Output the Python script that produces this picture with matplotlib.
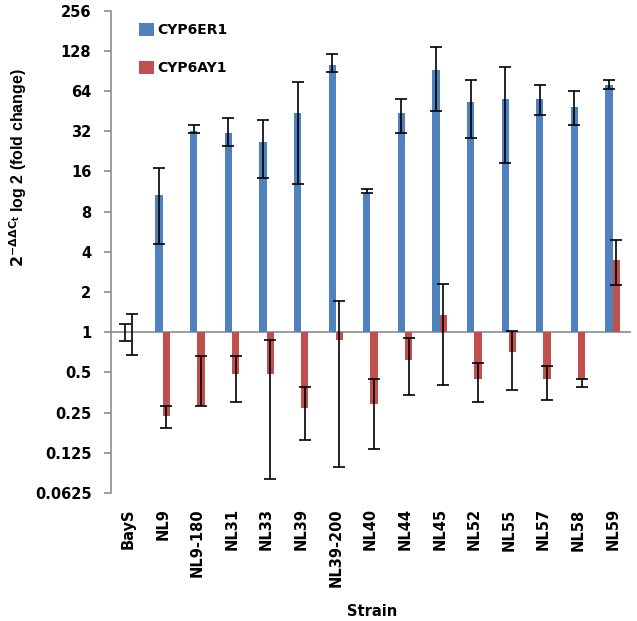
import numpy as np
import matplotlib
matplotlib.use("Agg")
import matplotlib.pyplot as plt
from matplotlib.ticker import FixedLocator, FixedFormatter, NullLocator

strains = ["BayS", "NL9", "NL9-180", "NL31", "NL33", "NL39", "NL39-200", "NL40",
           "NL44", "NL45", "NL52", "NL55", "NL57", "NL58", "NL59"]

# CYP6ER1 fold change with error bar limits (low, high)
er1 = [1.0, 10.6, 32.0, 31.0, 26.5, 43.6, 101.0, 11.0, 43.6, 91.6, 52.7, 55.6, 55.6, 48.5, 70.6]
er1_lo = [0.86, 4.6, 31.0, 24.7, 14.2, 12.8, 88.6, 11.0, 30.9, 45.0, 28.4, 18.4, 42.2, 35.5, 66.0]
er1_hi = [1.16, 16.9, 35.5, 40.0, 38.7, 74.5, 121.0, 11.8, 55.6, 136.0, 78.0, 96.5, 70.6, 63.6, 78.0]

# CYP6AY1 fold change with error bar limits (low, high)
ay1 = [1.0, 0.236, 0.28, 0.485, 0.485, 0.27, 0.88, 0.29, 0.62, 1.34, 0.445, 0.71, 0.45, 0.44, 3.5]
ay1_lo = [0.68, 0.192, 0.28, 0.298, 0.079, 0.157, 0.098, 0.133, 0.34, 0.40, 0.30, 0.37, 0.31, 0.39, 2.25]
ay1_hi = [1.36, 0.28, 0.66, 0.66, 0.87, 0.39, 1.71, 0.45, 0.90, 2.29, 0.59, 1.03, 0.56, 0.45, 4.9]

yticks = [0.0625, 0.125, 0.25, 0.5, 1, 2, 4, 8, 16, 32, 64, 128, 256]
ytick_labels = ["0.0625", "0.125", "0.25", "0.5", "1", "2", "4", "8", "16", "32", "64", "128", "256"]

BLUE = "#4F81BD"
RED = "#C0504D"
GRAY = "#8C8C8C"

plt.rcParams["font.family"] = "DejaVu Sans"
plt.rcParams["font.weight"] = "bold"

fig = plt.figure(figsize=(6.37, 6.21), dpi=100)
ax = fig.add_axes([0.174, 0.206, 0.815, 0.777])

x = np.arange(len(strains))
w = 0.21
xb = x - w / 2
xr = x + w / 2

er1 = np.array(er1); ay1 = np.array(ay1)
ax.bar(xb, er1 - 1, bottom=1, width=w, color=BLUE, label="CYP6ER1", zorder=2)
ax.bar(xr, ay1 - 1, bottom=1, width=w, color=RED, label="CYP6AY1", zorder=2)

eb = dict(fmt="none", ecolor="black", elinewidth=1.2, capsize=4, capthick=1.2, zorder=3)
ax.errorbar(xb, er1, yerr=[er1 - np.array(er1_lo), np.array(er1_hi) - er1], **eb)
ax.errorbar(xr, ay1, yerr=[ay1 - np.array(ay1_lo), np.array(ay1_hi) - ay1], **eb)

ax.axhline(1, color=GRAY, lw=1.2, zorder=1, clip_on=False)

ax.set_yscale("log", base=2)
ax.set_ylim(0.0625, 256)
ax.set_xlim(-0.5, len(strains) - 0.5)
ax.yaxis.set_major_locator(FixedLocator(yticks))
ax.yaxis.set_major_formatter(FixedFormatter(ytick_labels))
ax.yaxis.set_minor_locator(NullLocator())
ax.tick_params(axis="y", length=5, color=GRAY, width=1.2, pad=9, labelsize=10.5)

ax.set_xticks(x)
ax.set_xticklabels(strains, rotation=90, fontsize=10.5, fontweight="bold")
ax.tick_params(axis="x", length=0, pad=11)

for s in ["top", "right", "bottom"]:
    ax.spines[s].set_visible(False)
ax.spines["left"].set_color(GRAY)
ax.spines["left"].set_linewidth(1.2)

ax.set_ylabel(r"$\mathbf{2^{-\Delta\Delta C_t}}$ log 2 (fold change)", fontsize=11.5,
              fontweight="bold", family="Liberation Sans")
ax.yaxis.set_label_coords(-0.158, 0.674)
fig.text(0.584, 0.004, "Strain", ha="center", va="bottom", fontsize=10.5, fontweight="bold")

leg = ax.legend(loc="upper left", bbox_to_anchor=(0.03, 1.0), frameon=False,
                fontsize=10, handlelength=1.1, handleheight=1.1, handletextpad=0.2,
                labelspacing=1.7)
for t in leg.get_texts():
    t.set_fontweight("bold")

fig.savefig("out.png", dpi=100)
